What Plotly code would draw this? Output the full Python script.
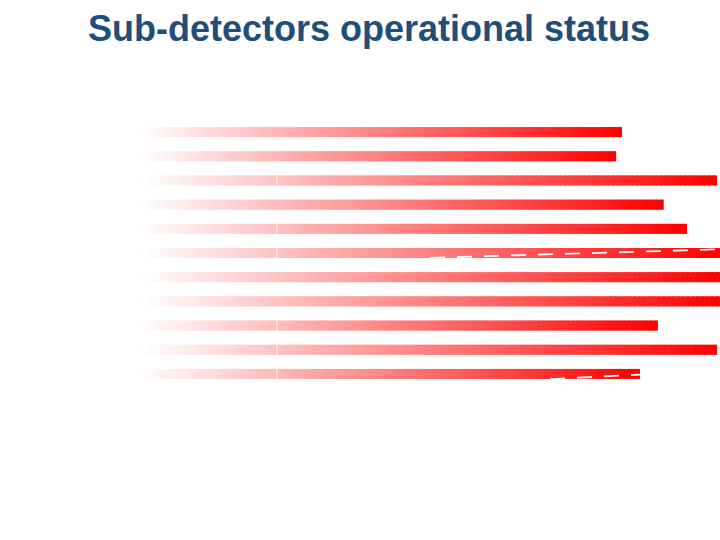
import plotly.graph_objects as go

# ---- data ----
detectors = ["SD1", "SD2", "SD3", "SD4", "SD5", "SD6", "SD7", "SD8", "SD9", "SD10", "SD11"]
status_pct = [83.1, 82.1, 99.5, 90.3, 94.3, 100.0, 100.0, 100.0, 89.3, 99.5, 86.2]

# faint white tick marks on some bars (value position, bar index)
tick_value = 23.6
tick_bars = [2, 4, 5, 8, 9, 10]

# dashed white overlay lines (x values, y positions in category units)
dash1_x = [50.0, 100.0]
dash1_y = [5.198, 4.847]
dash2_x = [70.7, 86.2]
dash2_y = [10.214, 10.028]

title_text = "Sub-detectors operational status"

# ---- figure ----
fig = go.Figure()
N = 120
ypos = list(range(len(detectors)))
for i in range(N):
    t = (i + 0.5) / N
    g = int(round(255 * (1 - t)))
    col = f"rgb(255,{g},{g})"
    seg = [v / N for v in status_pct]
    widths = [s * (1.8 if i < N - 1 else 1.0) for s in seg]
    bases = [i * s for s in seg]
    fig.add_trace(go.Bar(
        y=ypos, x=widths, base=bases, orientation="h",
        marker=dict(color=col, line=dict(width=0)),
        width=0.41, hoverinfo="skip", showlegend=False,
    ))

tx, ty = [], []
for b in tick_bars:
    tx += [tick_value, tick_value, None]
    ty += [b - 0.2, b + 0.2, None]
fig.add_trace(go.Scatter(x=tx, y=ty, mode="lines",
                         line=dict(color="rgba(255,255,255,0.85)", width=1),
                         hoverinfo="skip", showlegend=False))

for xs, ys in [(dash1_x, dash1_y), (dash2_x, dash2_y)]:
    fig.add_trace(go.Scatter(x=xs, y=ys, mode="lines",
                             line=dict(color="white", width=1.8, dash="15px,12px"),
                             hoverinfo="skip", showlegend=False))

W, H = 720, 540
fig.update_layout(
    width=W, height=H,
    barmode="overlay",
    paper_bgcolor="white", plot_bgcolor="white",
    margin=dict(l=140, r=0, t=120, b=154, pad=0),
    xaxis=dict(range=[0, 100], visible=False, showgrid=False, zeroline=False),
    yaxis=dict(range=[10.5, -0.5], visible=False, showgrid=False, zeroline=False),
    title=dict(text=f"<b>{title_text}</b>", xref="container", yref="container",
               x=369 / W, y=1 - 28 / H, xanchor="center", yanchor="middle",
               font=dict(family="Liberation Sans, Arial", size=36, color="#1F4E7B")),
    showlegend=False,
)

fig.write_html(
    "out.html",
    config={"displayModeBar": False},
    post_script="document.body.style.margin='0px';document.body.style.overflow='hidden';",
)
